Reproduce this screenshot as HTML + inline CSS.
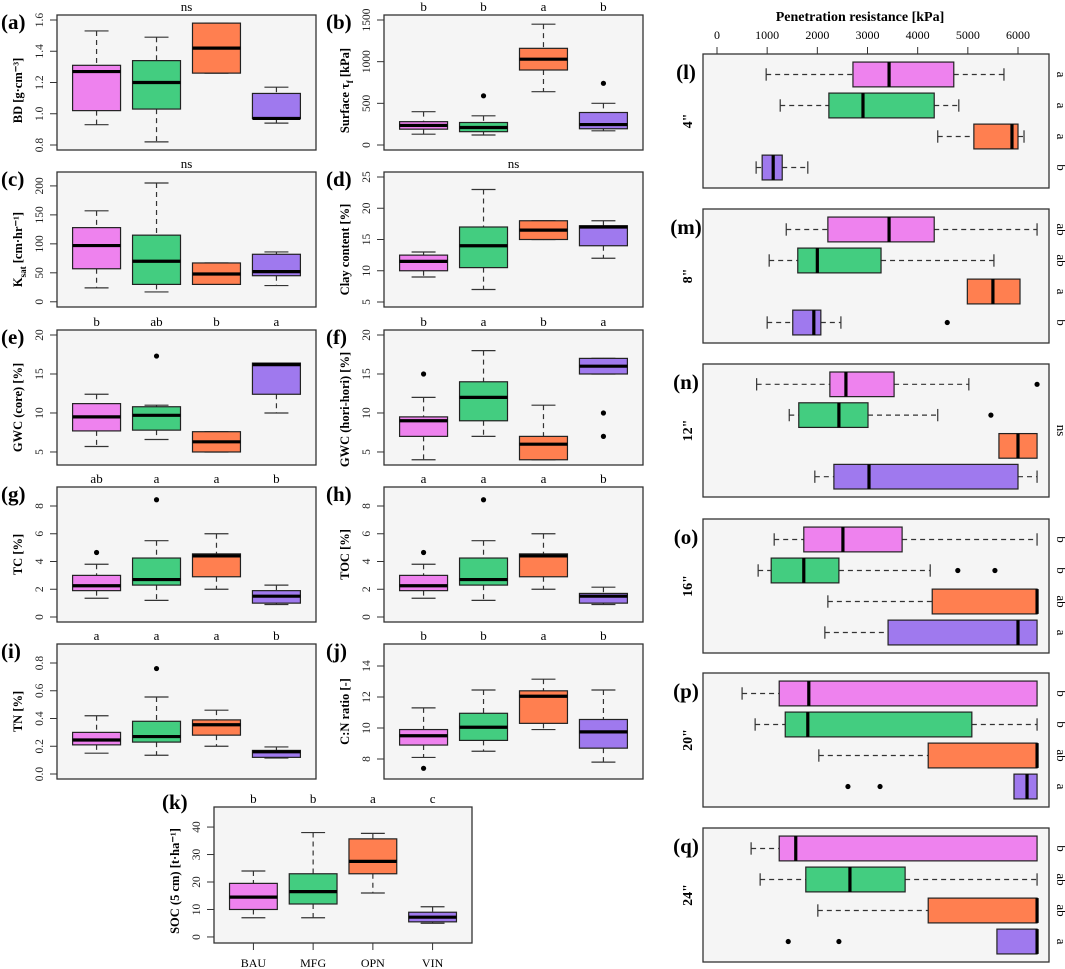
<!DOCTYPE html>
<html><head><meta charset="utf-8"><style>
body{margin:0;background:#fff}
svg{display:block;font-family:"Liberation Serif",serif}
</style></head><body>
<svg id="fig" width="1065" height="969" viewBox="0 0 1065 969" xmlns="http://www.w3.org/2000/svg"></svg>
<script>
const groups=['BAU','MFG','OPN','VIN'];
const fills=['#EE82EE','#43CD80','#FF7F50','#9F79EE'];
// stats: [lower whisker, q1, median, q3, upper whisker]
const bdStats=[[0.93,1.02,1.27,1.31,1.53],[0.82,1.03,1.20,1.34,1.49],[1.26,1.26,1.42,1.58,1.58],[0.94,0.97,0.97,1.13,1.17]];
const bdOut=[[],[],[],[]];
const tauStats=[[130,190,235,280,400],[120,160,210,270,350],[640,900,1030,1160,1450],[170,195,245,390,500]];
const tauOut=[[],[590],[],[740]];
const ksatStats=[[24,57,97,128,157],[17,30,70,115,205],[30,30,48,67,67],[28,45,52,82,86]];
const ksatOut=[[],[],[],[]];
const clayStats=[[9,10,11.5,12.5,13],[7,10.5,14,17,23],[15,15,16.5,18,18],[12,14,17,17.2,18]];
const clayOut=[[],[],[],[]];
const gwcCoreStats=[[5.7,7.7,9.5,11.2,12.4],[6.6,7.8,9.7,10.8,11],[5,5,6.3,7.6,7.6],[10,12.4,16.2,16.4,16.4]];
const gwcCoreOut=[[],[17.3],[],[]];
const gwcHoriStats=[[4,7,9,9.5,12],[7,9,12,14,18],[4,4,6,7,11],[15,15,16,17,17]];
const gwcHoriOut=[[15],[],[],[10,7]];
const tcStats=[[1.35,1.9,2.25,3,3.8],[1.2,2.3,2.7,4.25,5.5],[2,2.9,4.4,4.55,6],[0.9,1.0,1.5,1.9,2.3]];
const tcOut=[[4.65],[8.45],[],[]];
const tocStats=[[1.35,1.9,2.25,3,3.8],[1.2,2.3,2.7,4.25,5.5],[2,2.9,4.4,4.55,6],[0.9,1.0,1.5,1.7,2.15]];
const tocOut=[[4.65],[8.45],[],[]];
const tnStats=[[0.15,0.21,0.245,0.30,0.42],[0.135,0.23,0.27,0.38,0.555],[0.20,0.28,0.355,0.39,0.46],[0.115,0.12,0.16,0.17,0.195]];
const tnOut=[[],[0.76],[],[]];
const cnStats=[[8.1,8.9,9.5,9.9,11.3],[8.5,9.2,10.05,10.95,12.45],[9.9,10.3,12.05,12.4,13.15],[7.8,8.7,9.75,10.55,12.45]];
const cnOut=[[7.4],[],[],[]];
const socStats=[[7,10,14.5,19.5,24],[7,12,16.5,23,38],[16,23,27.5,35.7,37.7],[5,5.5,7.2,9,11]];
const socOut=[[],[],[],[]];
// penetration resistance
const pr4Stats=[[980,2710,3430,4720,5720],[1260,2230,2910,4330,4820],[4400,5120,5880,6000,6120],[780,900,1120,1300,1810]];
const pr4Out=[[],[],[],[]];
const pr8Stats=[[1380,2210,3430,4330,6380],[1040,1610,2000,3270,5520],[4990,4990,5500,6040,6040],[1000,1510,1930,2070,2470]];
const pr8Out=[[],[],[],[4590]];
const pr12Stats=[[790,2250,2570,3530,5020],[1440,1630,2430,3010,4400],[5620,5620,6000,6380,6380],[1950,2330,3030,6000,6380]];
const pr12Out=[[6380],[5460],[],[]];
const pr16Stats=[[1140,1730,2510,3690,6380],[820,1080,1730,2430,4250],[2210,4290,6380,6380,6380],[2150,3410,6000,6380,6380]];
const pr16Out=[[],[4800,5540],[],[]];
const pr20Stats=[[500,1240,1830,6380,6380],[760,1360,1810,5080,6380],[2030,4210,6380,6380,6380],[5920,5920,6180,6380,6380]];
const pr20Out=[[],[],[],[2610,3250]];
const pr24Stats=[[680,1240,1570,6380,6380],[860,1770,2650,3750,6380],[2010,4210,6380,6380,6380],[5580,5580,6380,6380,6380]];
const pr24Out=[[],[],[],[1420,2430]];
const prTicks=[0,1000,2000,3000,4000,5000,6000];

const svg=document.getElementById('fig');
const NS='http://www.w3.org/2000/svg';
function mk(tag,attrs,parent,name){const e=document.createElementNS(NS,tag);for(const k in attrs)e.setAttribute(k,attrs[k]);


(parent||svg).appendChild(e);return e;}
function txt(s,attrs,parent,name){const e=mk('text',attrs,parent,name);e.innerHTML=s;return e;}

function vpanel(o){
  const g=mk('g',{},svg,o.name);
  const W=o.x1-o.x0,H=o.bot-o.top;
  const yS=v=>o.bot-(v-o.lo)/(o.hi-o.lo)*H;
  const xS=i=>o.x0+(i+1-0.34)/4.32*W;
  mk('rect',{x:o.x0,y:o.top,width:W,height:H,fill:'#F5F5F5',stroke:'#333','stroke-width':1.3},g,'plot-area');
  o.ticks.forEach((t,k)=>{const y=yS(t);
    mk('line',{x1:o.x0-7,x2:o.x0,y1:y,y2:y,stroke:'#333'},g,'y-tick');
    txt(o.tickLabels[k],{x:o.x0-14,y:y,'font-size':11.5,'text-anchor':'middle',transform:`rotate(-90 ${o.x0-14} ${y})`,fill:'#222'},g,'y-tick-label');});
  const tx=o.x0-35,ty=(o.top+o.bot)/2+(o.tdy||0);
  txt(o.title,{x:tx,y:ty,'font-size':12.5,'font-weight':'bold','text-anchor':'middle',transform:`rotate(-90 ${tx} ${ty})`},g,'y-axis-title');
  txt(o.label,{x:o.x0-(o.lx||56),y:o.top+(o.ly||14),'font-size':21,'font-weight':'bold'},g,'panel-label');
  if(o.letters.length===1) txt(o.letters[0],{x:(o.x0+o.x1)/2,y:o.top-4,'font-size':13,'text-anchor':'middle'},g,'significance-label');
  else o.letters.forEach((l,i)=>txt(l,{x:xS(i),y:o.top-4,'font-size':13,'text-anchor':'middle'},g,'significance-label'));
  const bw=W/4.32*0.8;
  o.stats.forEach((s,i)=>{const cx=xS(i);
    const bg=mk('g',{},g,'box-'+groups[i].toLowerCase());
    mk('line',{x1:cx,x2:cx,y1:yS(s[4]),y2:yS(s[3]),stroke:'#333','stroke-dasharray':'5,4','stroke-width':1.2},bg,'whisker-upper');
    mk('line',{x1:cx,x2:cx,y1:yS(s[1]),y2:yS(s[0]),stroke:'#333','stroke-dasharray':'5,4','stroke-width':1.2},bg,'whisker-lower');
    mk('line',{x1:cx-bw/4,x2:cx+bw/4,y1:yS(s[4]),y2:yS(s[4]),stroke:'#333','stroke-width':1.2},bg,'cap-upper');
    mk('line',{x1:cx-bw/4,x2:cx+bw/4,y1:yS(s[0]),y2:yS(s[0]),stroke:'#333','stroke-width':1.2},bg,'cap-lower');
    mk('rect',{x:cx-bw/2,y:yS(s[3]),width:bw,height:Math.max(0.5,yS(s[1])-yS(s[3])),fill:fills[i],stroke:'#222','stroke-width':1.2},bg,'box-iqr');
    mk('line',{x1:cx-bw/2,x2:cx+bw/2,y1:yS(s[2]),y2:yS(s[2]),stroke:'#000','stroke-width':3.2},bg,'median-line');
    o.outs[i].forEach(v=>mk('circle',{cx:cx,cy:yS(v),r:2.6,fill:'#000'},bg,'outlier'));
  });
  if(o.xlabels){groups.forEach((c,i)=>{const cx=xS(i);
    mk('line',{x1:cx,x2:cx,y1:o.bot,y2:o.bot+7,stroke:'#333'},g,'x-tick');
    txt(c,{x:cx,y:o.bot+24,'font-size':12,'text-anchor':'middle'},g,'x-tick-label');});}
}

const L0=57,L1=316,R0=384,R1=643;
const rows=[15,172,330,487,644];
const H=135;
vpanel({name:'panel-a-bd',x0:L0,x1:L1,top:rows[0],bot:rows[0]+H,lo:0.768,hi:1.632,stats:bdStats,outs:bdOut,ticks:[0.8,1.0,1.2,1.4,1.6],tickLabels:['0.8','1.0','1.2','1.4','1.6'],letters:['ns'],title:'BD [g·cm⁻³]',label:'(a)',tdy:8});
vpanel({name:'panel-b-shear',x0:R0,x1:R1,top:rows[0],bot:rows[0]+H,lo:-60,hi:1560,stats:tauStats,outs:tauOut,ticks:[0,500,1000,1500],tickLabels:['0','500','1000','1500'],letters:['b','b','a','b'],title:'Surface τ<tspan font-size="9" dy="4">f</tspan><tspan dy="-4"> [kPa]</tspan>',label:'(b)',lx:58,tdy:8});
vpanel({name:'panel-c-ksat',x0:L0,x1:L1,top:rows[1],bot:rows[1]+H,lo:-9,hi:224,stats:ksatStats,outs:ksatOut,ticks:[0,50,100,150,200],tickLabels:['0','50','100','150','200'],letters:['ns'],title:'K<tspan font-size="9" dy="4">sat</tspan><tspan dy="-4"> [cm·hr⁻¹]</tspan>',label:'(c)',tdy:10});
vpanel({name:'panel-d-clay',x0:R0,x1:R1,top:rows[1],bot:rows[1]+H,lo:4.2,hi:25.8,stats:clayStats,outs:clayOut,ticks:[5,10,15,20,25],tickLabels:['5','10','15','20','25'],letters:['ns'],title:'Clay content [%]',label:'(d)',lx:58,tdy:10});
vpanel({name:'panel-e-gwc-core',x0:L0,x1:L1,top:rows[2],bot:rows[2]+H,lo:3.33,hi:20.64,stats:gwcCoreStats,outs:gwcCoreOut,ticks:[5,10,15,20],tickLabels:['5','10','15','20'],letters:['b','ab','b','a'],title:'GWC (core) [%]',label:'(e)',tdy:10});
vpanel({name:'panel-f-gwc-hori',x0:R0,x1:R1,top:rows[2],bot:rows[2]+H,lo:3.33,hi:20.64,stats:gwcHoriStats,outs:gwcHoriOut,ticks:[5,10,15,20],tickLabels:['5','10','15','20'],letters:['b','a','b','a'],title:'GWC (hori-hori) [%]',label:'(f)',lx:58,tdy:12});
vpanel({name:'panel-g-tc',x0:L0,x1:L1,top:rows[3],bot:rows[3]+H,lo:-0.36,hi:9.37,stats:tcStats,outs:tcOut,ticks:[0,2,4,6,8],tickLabels:['0','2','4','6','8'],letters:['ab','a','a','b'],title:'TC [%]',label:'(g)'});
vpanel({name:'panel-h-toc',x0:R0,x1:R1,top:rows[3],bot:rows[3]+H,lo:-0.36,hi:9.37,stats:tocStats,outs:tocOut,ticks:[0,2,4,6,8],tickLabels:['0','2','4','6','8'],letters:['a','a','a','b'],title:'TOC [%]',label:'(h)',lx:58});
vpanel({name:'panel-i-tn',x0:L0,x1:L1,top:rows[4],bot:rows[4]+H,lo:-0.036,hi:0.937,stats:tnStats,outs:tnOut,ticks:[0,0.2,0.4,0.6,0.8],tickLabels:['0.0','0.2','0.4','0.6','0.8'],letters:['a','a','a','b'],title:'TN [%]',label:'(i)'});
vpanel({name:'panel-j-cn',x0:R0,x1:R1,top:rows[4],bot:rows[4]+H,lo:6.71,hi:15.42,stats:cnStats,outs:cnOut,ticks:[8,10,12,14],tickLabels:['8','10','12','14'],letters:['b','b','a','b'],title:'C:N ratio [-]',label:'(j)',lx:58});
vpanel({name:'panel-k-soc',x0:214,x1:472,top:807,bot:943,lo:-2.2,hi:47.3,stats:socStats,outs:socOut,ticks:[0,10,20,30,40],tickLabels:['0','10','20','30','40'],letters:['b','b','a','c'],title:'SOC (5 cm) [t·ha⁻¹]',label:'(k)',lx:52,ly:2,tdy:6,xlabels:true});

function hpanel(o){
  const g=mk('g',{},svg,o.name);
  const x0=703,x1=1049,W=x1-x0,Hh=o.bot-o.top;
  const xS=v=>717+v*(1018-717)/6000;
  const yS=i=>o.top+(i+1-0.34)/4.32*Hh;
  mk('rect',{x:x0,y:o.top,width:W,height:Hh,fill:'#F5F5F5',stroke:'#333','stroke-width':1.3},g,'plot-area');
  txt(o.label,{x:686,y:o.top+25,'font-size':21,'font-weight':'bold','text-anchor':'middle'},g,'panel-label');
  const dy=(o.top+o.bot)/2;
  txt(o.depth,{x:692,y:dy,'font-size':14,'font-weight':'bold','text-anchor':'middle',transform:`rotate(-90 692 ${dy})`},g,'depth-label');
  const lx=1057;
  if(o.letters.length===1) txt(o.letters[0],{x:lx,y:dy,'font-size':13,'text-anchor':'middle',transform:`rotate(90 ${lx} ${dy})`},g,'significance-label');
  else o.letters.forEach((l,i)=>{const y=yS(i);txt(l,{x:lx,y:y,'font-size':13,'text-anchor':'middle',transform:`rotate(90 ${lx} ${y})`},g,'significance-label');});
  const bh=Hh/4.32*0.8;
  o.stats.forEach((s,i)=>{const cy=yS(i);
    const bg=mk('g',{},g,'box-'+groups[i].toLowerCase());
    mk('line',{x1:xS(s[3]),x2:xS(s[4]),y1:cy,y2:cy,stroke:'#333','stroke-dasharray':'5,4','stroke-width':1.2},bg,'whisker-upper');
    mk('line',{x1:xS(s[0]),x2:xS(s[1]),y1:cy,y2:cy,stroke:'#333','stroke-dasharray':'5,4','stroke-width':1.2},bg,'whisker-lower');
    if(s[4]>s[3]) mk('line',{x1:xS(s[4]),x2:xS(s[4]),y1:cy-bh/4,y2:cy+bh/4,stroke:'#333','stroke-width':1.2},bg,'cap-upper');
    if(s[0]<s[1]) mk('line',{x1:xS(s[0]),x2:xS(s[0]),y1:cy-bh/4,y2:cy+bh/4,stroke:'#333','stroke-width':1.2},bg,'cap-lower');
    mk('rect',{x:xS(s[1]),y:cy-bh/2,width:Math.max(0.5,xS(s[3])-xS(s[1])),height:bh,fill:fills[i],stroke:'#222','stroke-width':1.2},bg,'box-iqr');
    mk('line',{x1:xS(s[2]),x2:xS(s[2]),y1:cy-bh/2,y2:cy+bh/2,stroke:'#000','stroke-width':3.2},bg,'median-line');
    o.outs[i].forEach(v=>mk('circle',{cx:xS(v),cy:cy,r:2.6,fill:'#000'},bg,'outlier'));
  });
  if(o.axis){
    prTicks.forEach(t=>{const x=xS(t);
      mk('line',{x1:x,x2:x,y1:o.top-7,y2:o.top,stroke:'#333'},g,'x-tick');
      txt(String(t),{x:x,y:o.top-15,'font-size':12,'text-anchor':'middle'},g,'x-tick-label');});
    txt('Penetration resistance [kPa]',{x:860,y:21,'font-size':14,'font-weight':'bold','text-anchor':'middle'},g,'x-axis-title');
  }
}
hpanel({name:'panel-l-4in',top:54,bot:188,stats:pr4Stats,outs:pr4Out,label:'(l)',depth:'4"',letters:['a','a','a','b'],axis:true});
hpanel({name:'panel-m-8in',top:209,bot:343,stats:pr8Stats,outs:pr8Out,label:'(m)',depth:'8"',letters:['ab','ab','a','b']});
hpanel({name:'panel-n-12in',top:364,bot:497,stats:pr12Stats,outs:pr12Out,label:'(n)',depth:'12"',letters:['ns']});
hpanel({name:'panel-o-16in',top:519,bot:653,stats:pr16Stats,outs:pr16Out,label:'(o)',depth:'16"',letters:['b','b','ab','a']});
hpanel({name:'panel-p-20in',top:673,bot:807,stats:pr20Stats,outs:pr20Out,label:'(p)',depth:'20"',letters:['b','b','ab','a']});
hpanel({name:'panel-q-24in',top:828,bot:962,stats:pr24Stats,outs:pr24Out,label:'(q)',depth:'24"',letters:['b','ab','ab','a']});
</script>
</body></html>
